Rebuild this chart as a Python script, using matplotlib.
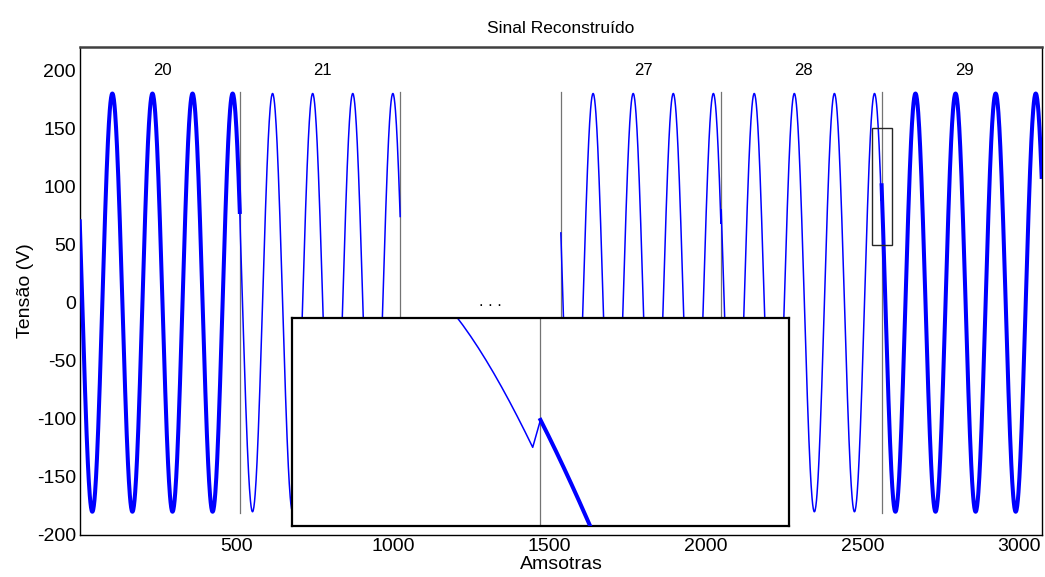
import numpy as np
import matplotlib.pyplot as plt
from matplotlib.patches import Rectangle

plt.rcParams["font.family"] = ["Liberation Sans", "DejaVu Sans"]
plt.rcParams["axes.unicode_minus"] = False

# frames shown in the plot (frames 22-26 are left out, "...")
frame_ids = [20, 21, 27, 28, 29]
frame_slot = [0, 1, 3, 4, 5]
# value of the first sample of each frame (signal falling there)
frame_start_v = [70, 66, 60, 80, 101]
frame_thick = [True, False, False, False, True]
amplitude = 180
cycle_len = 128
frame_len = 512

label_x = [264, 776, 1800, 2312, 2824]
dots_x = 1312
boundaries = [512, 1024, 1536, 2048, 2560]
zoom_x = [2528, 2592]
zoom_y = [50, 150]

x_ticks = [500, 1000, 1500, 2000, 2500, 3000]
y_ticks = [-200, -150, -100, -50, 0, 50, 100, 150, 200]


def frame_wave(start_v):
    # sine sampled at 128 points per cycle, phase taken from the first sample
    phase = np.pi - np.arcsin(start_v / amplitude)
    n = np.arange(frame_len)
    return amplitude * np.sin(phase + 2 * np.pi * n / cycle_len)


# build the frames and join the ones that sit next to each other
pieces = []
for slot, v0, thick in zip(frame_slot, frame_start_v, frame_thick):
    xs = slot * frame_len + np.arange(frame_len)
    pieces.append((slot, xs, frame_wave(v0), thick))

runs = []
for slot, xs, ys, thick in pieces:
    if runs and runs[-1][0] == slot - 1:
        runs[-1] = (slot, np.concatenate([runs[-1][1], xs]),
                    np.concatenate([runs[-1][2], ys]))
    else:
        runs.append((slot, xs, ys))


def draw_signal(ax):
    for _, xs, ys in runs:
        ax.plot(xs, ys, color="#0000ff", linewidth=1.1, zorder=2)
    for _, xs, ys, thick in pieces:
        if thick:
            ax.plot(xs, ys, color="#0000ff", linewidth=2.9, zorder=3)
    for b in boundaries:
        ax.plot([b, b], [-181, 181], color="0.45", linewidth=0.9, zorder=1)


fig = plt.figure(figsize=(10.45, 5.77), dpi=100)
ax = fig.add_axes([0.0766, 0.0728, 0.9205, 0.8457])

draw_signal(ax)

for fid, lx in zip(frame_ids, label_x):
    ax.text(lx, 200, str(fid), ha="center", va="center", fontsize=12)
ax.text(dots_x, -3, ". . .", ha="center", va="baseline", fontsize=12)

ax.add_patch(Rectangle((zoom_x[0], zoom_y[0]), zoom_x[1] - zoom_x[0],
                       zoom_y[1] - zoom_y[0], fill=False,
                       edgecolor="0.15", linewidth=1.0, zorder=4))

ax.set_xlim(1, 3072)
ax.set_ylim(-200, 220)
ax.set_xticks(x_ticks)
ax.set_yticks(y_ticks)
ax.tick_params(direction="in", length=0, labelsize=14)
ax.tick_params(axis="x", pad=2)
ax.tick_params(axis="y", pad=3)
for s in ax.spines.values():
    s.set_linewidth(1.0)
ax.spines["top"].set_color("0.25")
ax.spines["top"].set_linewidth(1.8)

ax.set_title("Sinal Reconstruído", fontsize=12.5, pad=10)
ax.set_xlabel("Amsotras", fontsize=14, labelpad=1)
ax.set_ylabel("Tensão (V)", fontsize=14, labelpad=2)

# zoomed view of the frame 28 -> 29 boundary
ins = fig.add_axes([0.2794, 0.0884, 0.4756, 0.3605], zorder=5)
ins.set_facecolor("white")
draw_signal(ins)
ins.set_xlim(zoom_x)
ins.set_ylim(zoom_y)
ins.set_xticks([])
ins.set_yticks([])
for s in ins.spines.values():
    s.set_linewidth(1.6)
    s.set_color("black")

fig.savefig("out.png", dpi=100)
